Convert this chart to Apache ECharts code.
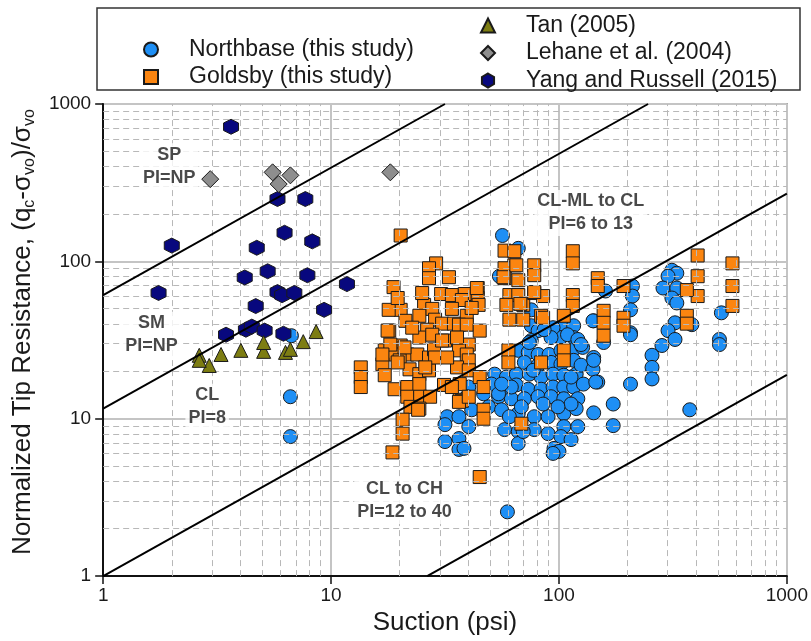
<!DOCTYPE html>
<html>
<head>
<meta charset="utf-8">
<script src="https://cdn.jsdelivr.net/npm/echarts@6/dist/echarts.min.js"></script>
<style>
  html, body { margin: 0; padding: 0; background: #ffffff; }
  #chart { width: 811px; height: 641px; }
</style>
</head>
<body>
<div id="chart"></div>
<script>
// Suction (psi) vs normalized tip resistance, [suction, (qc - svo)/svo]
const northbase = [
  [56.5,146],[66.3,121],[54.8,80.5],[75.6,49.2],[75.6,39.0],[81.0,36.3],[92.3,36.3],[105,39.6],[116,39.0],[102,32.8],
  [116,32.8],[75.6,31.4],[66.3,27.2],[73.3,26.4],[81.0,25.6],[90.5,25.6],[102,27.2],[116,27.6],[70.5,22.8],[81.0,21.9],
  [92.3,22.8],[102,22.2],[116,23.5],[52.2,19.2],[58.8,18.4],[65.0,19.2],[74.1,19.2],[83.5,18.4],[94.2,19.2],[105,18.9],
  [119,19.2],[50.6,16.6],[57.7,15.4],[65.0,16.4],[73.3,15.4],[83.5,15.4],[94.2,15.9],[105,15.9],[116,15.9],[40.2,15.9],
  [46.7,14.4],[54.3,13.8],[61.8,13.4],[70.5,13.4],[81.0,13.8],[92.3,13.8],[105,13.4],[121,13.4],[32.3,10.3],[36.4,10.3],
  [41.4,11.4],[49.1,11.9],[56.0,11.4],[66.3,10.8],[77.9,10.3],[89.6,10.3],[105,10.8],[36.4,7.48],[31.6,7.16],[57.7,8.53],
  [66.3,8.29],[77.9,8.53],[89.6,8.04],[105,8.91],[121,8.91],[31.6,9.17],[36.4,6.38],[66.3,6.96],[69.7,8.29],[102,7.70],
  [113,7.37],[95.1,6.48],[100,6.20],[119,11.6],[142,10.9],[173,12.4],[173,9.04],[375,11.4],[59.4,2.56],[94.2,37.9],
  [109,34.2],[142,41.9],[157,30.5],[206,35.2],[121,31.9],[142,24.5],[127,28.4],[125,21.9],[141,20.6],[148,17.1],
  [128,16.6],[113,12.4],[99.0,11.9],[206,16.6],[256,25.3],[256,21.2],[256,17.9],[313,87.8],[329,84.1],[301,80.5],
  [286,67.7],[329,67.7],[313,58.5],[329,54.4],[323,40.7],[301,36.3],[323,31.9],[283,29.2],[516,47.1],[506,31.9],
  [506,29.6],[210,69.7],[210,60.2],[206,49.2],[206,34.2],[160,64.8],[141,41.9],[92.3,32.8],[125,29.6],[142,23.5],
  [145,17.1],[113,18.4],[94.2,6.02],[383,39.6],[39.4,13.8],[6.63,13.8],[6.63,7.70],[6.70,33.7],[60.6,10.3],[68.4,11.9],
  [85.2,12.4],[38.3,6.48],[54.3,14.4],[77.1,20.3],[74.1,30.5],[86.1,36.8],[61.8,15.9],[56.0,16.6],[40.2,8.91]
];

const goldsby = [
  [20.2,146],[28.9,97.1],[26.9,90.4],[26.9,78.2],[18.8,68.6],[32.9,79.3],[30.4,62.0],[33.9,61.1],[38.6,62.0],[37.5,56.8],
  [25.6,52.9],[27.8,49.9],[33.9,49.9],[20.2,49.2],[17.9,49.2],[21.2,41.9],[24.4,45.1],[28.6,42.6],[30.7,40.2],[34.6,40.2],
  [18.0,36.3],[26.4,36.8],[44.0,67.7],[44.0,58.5],[39.4,45.1],[44.4,52.9],[36.4,39.6],[39.4,39.6],[24.4,32.8],[27.8,34.2],
  [31.6,31.4],[40.2,29.6],[44.9,36.3],[20.2,29.2],[17.2,27.2],[19.0,25.6],[21.6,25.6],[23.9,25.6],[26.9,24.5],[28.3,27.6],
  [36.4,27.2],[39.4,25.6],[40.2,23.5],[16.8,22.2],[20.0,23.5],[22.1,20.6],[24.4,19.2],[26.9,20.3],[35.7,21.2],[40.2,20.3],
  [13.5,21.2],[13.5,18.4],[13.5,15.9],[17.2,18.9],[19.0,15.4],[21.6,15.9],[24.4,16.6],[21.6,13.8],[24.6,13.8],[27.2,13.8],
  [36.7,16.6],[44.9,18.4],[46.7,15.9],[22.3,11.9],[24.4,11.6],[36.7,13.2],[20.6,9.86],[20.6,8.04],[46.7,11.4],[46.7,10.0],
  [60.0,27.2],[60.0,22.8],[68.4,9.30],[83.5,22.8],[105,27.2],[105,23.5],[57.7,117],[63.7,116],[63.7,94.4],[57.7,90.4],
  [57.7,78.2],[66.3,75.9],[60.6,61.1],[66.3,61.1],[58.8,52.9],[69.7,52.9],[60.6,42.6],[69.7,42.6],[77.9,94.4],[77.9,81.7],
  [77.9,62.9],[85.2,60.2],[83.5,45.1],[115,116],[115,97.1],[115,61.1],[115,52.1],[148,78.2],[148,69.7],[105,45.1],
  [157,48.5],[157,40.7],[157,33.7],[192,69.7],[192,43.8],[192,39.0],[406,109],[406,80.5],[406,60.2],[364,65.7],
  [364,45.1],[364,40.2],[577,97.1],[577,69.7],[577,52.1],[85.2,43.8],[18.6,6.11],[44.9,4.26],[37.5,13.0],[24.1,11.4],
  [31.3,16.4],[33.9,15.9],[36.4,12.8],[18.2,29.6],[21.0,28.4],[30.7,31.4],[35.7,32.8],[16.8,25.6],[19.6,22.8],[28.6,24.5],
  [25.9,21.2],[40.2,13.8],[17.7,36.3],[41.4,50.6],[43.6,67.7],[65.0,94.4],[57.1,79.3],[67.7,53.7],[77.9,63.8],[32.3,24.5],
  [22.7,37.9],[25.1,62.9],[19.6,58.5]
];

const tan2005 = [
  [2.64,25.3],[2.92,21.8],[2.64,23.5],[3.29,25.6],[4.02,27.2],[5.06,26.8],[5.06,30.5],[6.31,26.4],[6.63,27.6],[7.55,30.9],[8.6,35.8]
];

const lehane2004 = [
  [2.95,333],[5.54,368],[6.63,352],[5.89,310],[18.2,368]
];

const yangRussell2015 = [
  [3.64,717],[2.0,126],[1.75,63],[5.82,249],[7.71,249],[6.25,152],[4.72,122],[8.27,134],[4.18,79],[5.27,86.5],
  [7.87,81.6],[5.82,63.8],[6.1,61],[6.9,63],[4.67,52],[9.32,49.2],[11.74,71.7],[3.46,34.2],[4.23,36.8],[4.49,38.5],
  [5.11,36.3],[6.18,34.7]
];

// Soil-type boundary lines, end points in (suction, resistance)
const boundaryA = [[1, 61], [31.6, 1000]];
const boundaryB = [[1, 11.6], [246, 1000]];
const boundaryC = [[1, 1], [1000, 269]];
const boundaryD = [[26.4, 1], [1000, 19]];

// Zone annotations, anchored at (suction, resistance)
const zoneNames = ['SP\nPI=NP', 'SM\nPI=NP', 'CL\nPI=8', 'CL-ML to CL\nPI=6 to 13', 'CL to CH\nPI=12 to 40'];
const zoneAnchors = [[1.95, 402], [1.63, 34.2], [2.86, 11.9], [138, 203], [21.0, 3.0]];

const decadeTicks = [1, 10, 100, 1000];

const FONT = '"Liberation Sans", Arial, sans-serif';
const EDGE = '#1a1a1a';

// Minor gridline positions: 2..9 within each decade
const minorVals = [];
for (let i = 0; i < decadeTicks.length - 1; i++) {
  for (let k = 2; k <= 9; k++) minorVals.push(k * decadeTicks[i]);
}

const hexagon = 'path://M0,-10L8.66,-5L8.66,5L0,10L-8.66,5L-8.66,-5Z';

const chart = echarts.init(document.getElementById('chart'), null, { renderer: 'canvas' });

function boundarySeries(pts) {
  return {
    type: 'line', data: pts, symbol: 'none', silent: true, z: 10,
    lineStyle: { color: '#000', width: 2 }, animation: false
  };
}

function scatterSeries(name, data, symbol, size, color, z) {
  return {
    name, type: 'scatter', data, symbol, symbolSize: size, z,
    itemStyle: { color, borderColor: EDGE, borderWidth: 1, opacity: 1 },
    animation: false
  };
}

const legendText = { fontSize: 23, color: '#1a1a1a', fontFamily: FONT, lineHeight: 20, padding: [0, 0, 0, 26] };
const decadeLabel = v => String(Math.round(v));

chart.setOption({
  backgroundColor: '#ffffff',
  animation: false,
  grid: { left: 98, right: 23, top: 104, bottom: 60, show: true, borderColor: '#444', borderWidth: 1.5, backgroundColor: 'transparent' },
  legend: [
    {
      data: ['Northbase (this study)', 'Goldsby (this study)'],
      orient: 'vertical', left: 143, top: 38, padding: 0, itemWidth: 14, itemHeight: 14, itemGap: 4.5,
      textStyle: legendText, selectedMode: false
    },
    {
      data: ['Tan (2005)', 'Lehane et al. (2004)', 'Yang and Russell (2015)'],
      orient: 'vertical', left: 480, top: 14, padding: 0, itemWidth: 14, itemHeight: 14, itemGap: 4.5,
      textStyle: legendText, selectedMode: false
    }
  ],
  graphic: [
    { type: 'rect', shape: { x: 97, y: 8, width: 703, height: 82 }, style: { fill: 'none', stroke: '#333', lineWidth: 1.5 }, silent: true }
  ],
  xAxis: {
    type: 'log', logBase: 10, min: decadeTicks[0], max: decadeTicks[decadeTicks.length - 1],
    name: 'Suction (psi)', nameLocation: 'middle', nameGap: 32,
    nameTextStyle: { fontSize: 26, color: '#1a1a1a', fontFamily: FONT },
    axisLine: { show: true, lineStyle: { color: '#111', width: 2 } },
    axisTick: { show: true, inside: false, length: 8, lineStyle: { color: '#111', width: 1.5 } },
    axisLabel: { fontSize: 19, color: '#1a1a1a', fontFamily: FONT, margin: 10, showMinLabel: true, showMaxLabel: true, formatter: decadeLabel },
    splitLine: { show: true, lineStyle: { color: '#c4c4c4', width: 2 } }
  },
  yAxis: {
    type: 'log', logBase: 10, min: decadeTicks[0], max: decadeTicks[decadeTicks.length - 1],
    name: 'Normalized Tip Resistance, (q{s|c}-σ{s|vo})/σ{s|vo}',
    nameLocation: 'middle', nameGap: 56,
    nameTextStyle: {
      fontSize: 26, color: '#1a1a1a', fontFamily: FONT, lineHeight: 30, padding: [0, 0, 0, 16],
      rich: { s: { fontSize: 16, fontFamily: FONT, color: '#1a1a1a', verticalAlign: 'bottom', lineHeight: 18 } }
    },
    axisLine: { show: true, lineStyle: { color: '#111', width: 2 } },
    axisTick: { show: true, inside: false, length: 8, lineStyle: { color: '#111', width: 1.5 } },
    axisLabel: { fontSize: 19, color: '#1a1a1a', fontFamily: FONT, margin: 12, showMinLabel: true, showMaxLabel: true, formatter: decadeLabel },
    splitLine: { show: true, lineStyle: { color: '#c4c4c4', width: 2 } }
  },
  series: [
    {
      type: 'scatter', data: [], silent: true, z: 1,
      markLine: {
        silent: true, symbol: 'none', animation: false,
        label: { show: false },
        lineStyle: { color: '#b8b8b8', width: 1, type: [6, 4] },
        data: minorVals.map(v => ({ xAxis: v })).concat(minorVals.map(v => ({ yAxis: v })))
      }
    },
    scatterSeries('Northbase (this study)', northbase, 'circle', 14, '#1e8ff5', 3),
    scatterSeries('Goldsby (this study)', goldsby, 'rect', 13, '#fb8510', 4),
    scatterSeries('Yang and Russell (2015)', yangRussell2015, hexagon, 15, '#08087e', 5),
    scatterSeries('Lehane et al. (2004)', lehane2004, 'diamond', 17, '#8e8e8e', 5),
    scatterSeries('Tan (2005)', tan2005, 'triangle', 14, '#7d7d12', 6),
    boundarySeries(boundaryA),
    boundarySeries(boundaryB),
    boundarySeries(boundaryC),
    boundarySeries(boundaryD),
    {
      type: 'scatter', silent: true, z: 12, symbolSize: 1,
      itemStyle: { color: 'rgba(0,0,0,0)', borderWidth: 0 },
      data: zoneAnchors.map((p, i) => ({ value: p, name: zoneNames[i] })),
      label: {
        show: true, position: 'inside', formatter: p => p.name,
        fontSize: 18, fontWeight: 'bold', color: '#1c1c1c', fontFamily: FONT,
        lineHeight: 23, align: 'center', backgroundColor: '#ffffff', padding: [0, 3]
      }
    }
  ]
});
</script>
</body>
</html>
